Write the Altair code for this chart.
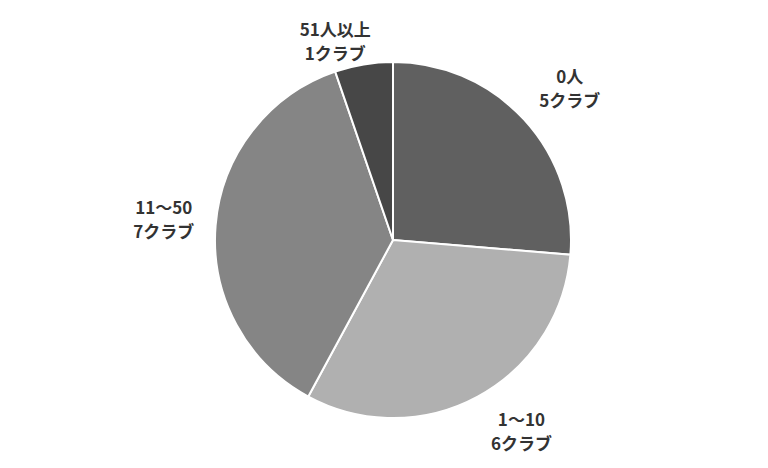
import altair as alt
import pandas as pd

categories = ["0人", "1～10", "11～50", "51人以上"]
clubs = [5, 6, 7, 1]
label_lines = ["0人\n5クラブ", "1～10\n6クラブ", "11～50\n7クラブ", "51人以上\n1クラブ"]
colors = ["#606060", "#b0b0b0", "#858585", "#474747"]

df = pd.DataFrame({
    "cat": categories,
    "clubs": clubs,
    "label": label_lines,
    "idx": list(range(len(categories))),
})
total = int(sum(clubs))

CX, CY = 385, 232

pie = alt.Chart(df).mark_arc(outerRadius=178, stroke="white", strokeWidth=2).encode(
    theta=alt.Theta("clubs:Q", stack=True, scale=alt.Scale(domain=[0, total])),
    order=alt.Order("idx:Q"),
    x=alt.value(CX),
    y=alt.value(CY),
    color=alt.Color("cat:N", scale=alt.Scale(domain=categories, range=colors), legend=None),
)

label_style = {
    "0人": (232, 6, 7),
    "1～10": (232, 18, -11),
    "11～50": (230, 0, 0),
    "51人以上": (205, -24, 5),
}

layers = [pie]
for cat in categories:
    r, dx, dy = label_style[cat]
    t = alt.Chart(df).transform_window(
        cum="sum(clubs)", sort=[alt.SortField("idx")]
    ).transform_calculate(
        mid="datum.cum - datum.clubs / 2"
    ).transform_filter(
        alt.datum.cat == cat
    ).mark_text(
        radius=r, dx=dx, dy=dy - 12, lineBreak="\n", lineHeight=24,
        font="Noto Sans CJK JP", fontSize=17, fontWeight="bold",
        color="#333333", align="center", baseline="middle",
    ).encode(
        theta=alt.Theta("mid:Q", scale=alt.Scale(domain=[0, total])),
        x=alt.value(CX),
        y=alt.value(CY),
        text="label:N",
    )
    layers.append(t)

chart = alt.layer(*layers).properties(
    width=752, height=452, autosize="none", padding=0
).configure_view(stroke=None)

chart.save("out.html", embed_options={"renderer": "svg", "actions": False})
